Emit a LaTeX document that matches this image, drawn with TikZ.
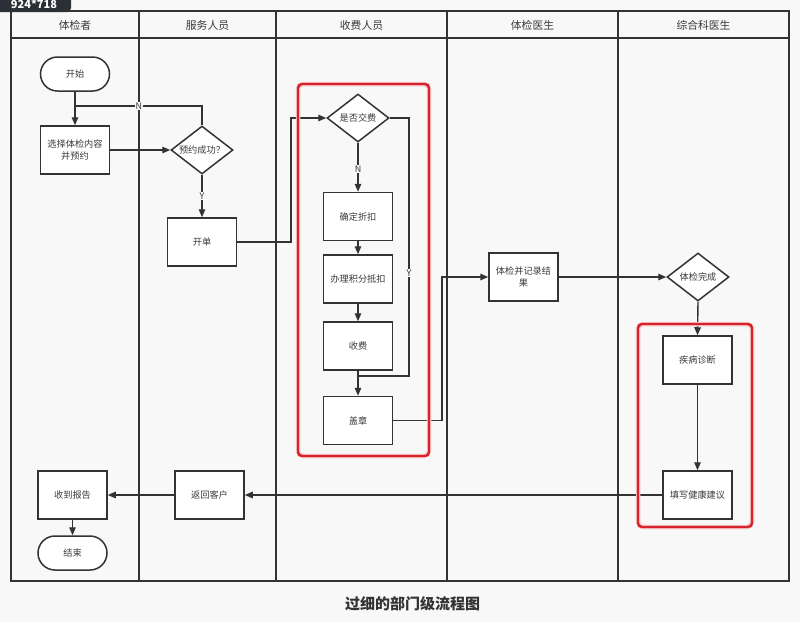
\documentclass[tikz,border=0pt]{standalone}
\usepackage{fontspec}
\setmainfont{Noto Sans CJK SC}
\usetikzlibrary{shapes.geometric,arrows.meta}
\definecolor{ln}{HTML}{333333}
\definecolor{tx}{HTML}{3A3A3A}
\definecolor{bgc}{HTML}{F8F8F8}
\definecolor{hl}{HTML}{D8232A}
\definecolor{badge}{HTML}{2B3036}
\tikzset{
  procbox/.style={draw=ln, fill=white, line width=1.5pt, minimum width=69pt, minimum height=48pt,
    inner sep=0pt, align=center, text=tx, font=\fontsize{9.2}{12}\selectfont},
  termbox/.style={procbox, rounded corners=17pt, minimum height=34pt},
  decision/.style={draw=ln, fill=white, line width=1.5pt, shape=diamond, inner sep=0pt,
    minimum width=62pt, minimum height=48pt, text=tx, font=\fontsize{9.2}{12}\selectfont},
  arr/.style={draw=ln, line width=1.4pt, -{Triangle[length=8pt,width=6.5pt]}},
  conn/.style={draw=ln, line width=1.4pt},
  lbl/.style={fill=bgc, inner sep=1pt, text=tx, font=\fontsize{9}{10}\selectfont},
  lane/.style={draw=ln, line width=1.5pt},
  hdr/.style={text=tx, font=\fontsize{10.8}{12}\selectfont},
  redbox/.style={draw=hl, line width=2.4pt, rounded corners=4pt}
}
\begin{document}
\begin{tikzpicture}[x=1pt,y=-1pt]
\useasboundingbox (0,0) rectangle (800,622);
\fill[bgc] (0,0) rectangle (800,622);

% lanes
\draw[lane] (11,11) rectangle (789,581);
\draw[lane] (11,38) -- (789,38);
\foreach \x in {139,276,447,618} \draw[lane] (\x,11) -- (\x,581);
\node[hdr] (h1) at (75,25.5) {体检者};
\node[hdr] (h2) at (207.5,25.5) {服务人员};
\node[hdr] (h3) at (361.5,25.5) {收费人员};
\node[hdr] (h4) at (532.5,25.5) {体检医生};
\node[hdr] (h5) at (703.5,25.5) {综合科医生};

% nodes
\node[termbox] (start) at (75,74) {开始};
\node[procbox] (choose) at (75,150) {选择体检内容\\并预约};
\node[decision] (ok) at (202,150) {\makebox[0pt]{预约成功？}};
\node[procbox] (kd) at (202,242) {开单};
\node[decision] (pay) at (358,118) {\makebox[0pt]{是否交费}};
\node[procbox] (zk) at (358,216.5) {确定折扣};
\node[procbox] (jf) at (358,279) {办理积分抵扣};
\node[procbox] (sf) at (358,346) {收费};
\node[procbox] (gz) at (358,420.5) {盖章};
\node[procbox] (tj) at (523.5,277) {体检并记录结\\果};
\node[decision] (wc) at (698,277) {\makebox[0pt]{体检完成}};
\node[procbox] (jb) at (697.5,360) {疾病诊断};
\node[procbox] (jy) at (697.5,495) {填写健康建议};
\node[procbox] (fh) at (209.5,495) {返回客户};
\node[procbox] (sd) at (72.5,495) {收到报告};
\node[termbox] (end) at (72.5,553) {结束};

% helper coordinates
\coordinate (nj) at (75,106);
\coordinate (c1) at (291,242);
\coordinate (c2) at (409,376);
\coordinate (yj) at (358,376);
\coordinate (c3) at (442,420.5);

% connectors
\draw[arr] (start) -- (choose);
\draw[conn] (ok.north) |- (nj);
\draw[arr] (choose.east) -- (ok.west);
\draw[arr] (ok.south) -- (kd.north);
\draw[arr] (kd.east) -- (c1) |- (pay.west);
\draw[arr] (pay.south) -- (zk.north);
\draw[arr] (zk) -- (jf);
\draw[arr] (jf) -- (sf);
\draw[conn] (pay.east) -| (c2) -- (yj);
\draw[arr] (sf) -- (gz);
\draw[arr] (gz.east) -- (c3) |- (tj.west);
\draw[arr] (tj.east) -- (wc.west);
\draw[arr] (wc.south) -- (jb.north);
\draw[arr] (jb) -- (jy);
\draw[arr] (jy.west) -- (fh.east);
\draw[arr] (fh.west) -- (sd.east);
\draw[arr] (sd) -- (end);

% labels
\node[lbl] (lN1) at (139,106) {N};
\node[lbl] (lY1) at (202,196) {Y};
\node[lbl] (lN2) at (358,169) {N};
\node[lbl] (lY2) at (409,273) {Y};

% highlight boxes
\draw[hl!25, line width=4.5pt, rounded corners=5pt] (298,84) rectangle (429,456);
\draw[hl!25, line width=4.5pt, rounded corners=5pt] (638,324) rectangle (752,527);
\draw[redbox] (298,84) rectangle (429,456);
\draw[redbox] (638,324) rectangle (752,527);

% title
\node[text=ln, font=\fontsize{15}{18}\selectfont\bfseries] (title) at (412.5,604) {过细的部门级流程图};

% screenshot badge
\fill[badge, rounded corners=4pt] (-6,-6) rectangle (71,12);
\node[text=white, font=\fontsize{11}{12}\selectfont\bfseries] (badgetxt) at (34,4.5) {924*718};
\end{tikzpicture}
\end{document}
